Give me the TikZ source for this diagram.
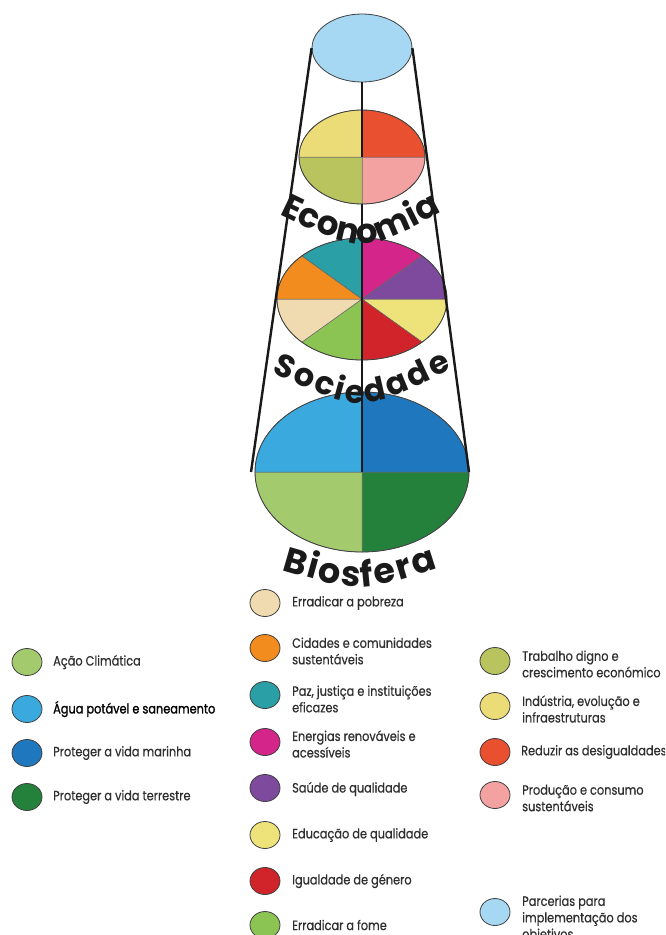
\documentclass[tikz,border=0pt]{standalone}
\usepackage{fontspec}
\setmainfont{Poppins}
\newfontfamily\legfont[FakeStretch=0.84,FakeBold=0.4]{Poppins}
\newfontfamily\legfontb[FakeStretch=0.84,FakeBold=1.3]{Poppins}
\newfontfamily\ttlfont{Poppins}
\usetikzlibrary{decorations.text,shapes.geometric}
\definecolor{cTop}{HTML}{A6D8F4}
\definecolor{cEy}{HTML}{ECDC78}
\definecolor{cEr}{HTML}{E9502F}
\definecolor{cEg}{HTML}{B9C45E}
\definecolor{cEp}{HTML}{F3A1A1}
\definecolor{cTeal}{HTML}{2A9FA5}
\definecolor{cMag}{HTML}{D4268A}
\definecolor{cPur}{HTML}{7E4A9E}
\definecolor{cOra}{HTML}{F28C1E}
\definecolor{cBei}{HTML}{F0DBB0}
\definecolor{cGre}{HTML}{8CC453}
\definecolor{cRed}{HTML}{D1242A}
\definecolor{cYel}{HTML}{EEE37A}
\definecolor{cBlt}{HTML}{3AAADE}
\definecolor{cBdk}{HTML}{1F78BE}
\definecolor{cGlt}{HTML}{A3CB6E}
\definecolor{cGdk}{HTML}{23813B}
\definecolor{cTxt}{HTML}{2E2E2E}
\definecolor{cTtl}{HTML}{1A1A1A}
\begin{document}
\begin{tikzpicture}[x=1pt,y=-1pt,
  slice/.style={draw=black!60,line width=0.5},
  rim/.style={draw=black!75,line width=0.8},
  axisline/.style={line width=2.6,draw=black!90},
  sideline/.style={line width=2.4,draw=black!90},
  legdot/.style={ellipse,draw=black!75,line width=0.8,minimum width=30,minimum height=27,inner sep=0},
  legtxt/.style={anchor=west,inner sep=0,align=left,text=cTxt,font=\legfont\fontsize{13.5}{16.5}\selectfont},
  ttl/.style={decorate,decoration={text along path,text align=fit to path,text color=cTtl}}]
\clip (0,0) rectangle (665,935);
\fill[white] (0,0) rectangle (665,935);
% centres
\coordinate (eco) at (362,157);
\coordinate (ecobot) at (362,204);
\coordinate (soc) at (362,299);
\coordinate (bio) at (362,472);
\coordinate (bl) at (251,472);
\coordinate (br) at (469,472);
% top ellipse
\node[ellipse,fill=cTop,rim,minimum width=100,minimum height=68,inner sep=0] (topell) at (362,48) {};
% Economia
\foreach \a/\b/\c in {0/90/cEp,90/180/cEg,180/270/cEy,270/360/cEr}
  \filldraw[fill=\c,slice] (eco) -- ++(\a:63 and 47) arc[start angle=\a,end angle=\b,x radius=63,y radius=47] -- cycle;
\draw[rim] (eco) ellipse[x radius=63,y radius=47];
% Sociedade
\foreach \a/\b/\c in {0/45/cYel,45/90/cRed,90/135/cGre,135/180/cBei,180/225/cOra,225/270/cTeal,270/315/cMag,315/360/cPur}
  \filldraw[fill=\c,slice] (soc) -- ++(\a:85 and 61) arc[start angle=\a,end angle=\b,x radius=85,y radius=61] -- cycle;
\draw[rim] (soc) ellipse[x radius=85,y radius=61];
% Biosfera
\foreach \a/\b/\c in {0/90/cGdk,90/180/cGlt,180/270/cBlt,270/360/cBdk}
  \filldraw[fill=\c,slice] (bio) -- ++(\a:107 and 80) arc[start angle=\a,end angle=\b,x radius=107,y radius=80] -- cycle;
\draw[rim] (bio) ellipse[x radius=107,y radius=80];
% lines
\draw[axisline] (topell.south) -- (eco);
\draw[axisline] (ecobot) -- (bio);
\draw[sideline] (topell.west) -- (bl);
\draw[sideline] (topell.east) -- (br);
% titles
\path[ttl,decoration={text={|\ttlfont\bfseries\fontsize{34}{34}\selectfont|Economia}}] (279,214) .. controls (362,254) .. (442,212);
\path[ttl,decoration={text={|\ttlfont\bfseries\fontsize{32}{32}\selectfont|Sociedade}}] (271,372) .. controls (361,414) .. (452,369);
\path[ttl,decoration={text={|\ttlfont\bfseries\fontsize{35}{35}\selectfont|Biosfera}}] (281,570) .. controls (360,593) .. (438,568);
% legend left
\node[legdot,fill=cGlt] (d1) at (27,662) {};
\node[legtxt] (t1) at (53,662) {Ação Climática};
\node[legdot,fill=cBlt] (d2) at (27,709) {};
\node[legtxt,text=black,font=\legfontb\fontsize{13.5}{16.5}\selectfont] (t2) at (53,709) {Água potável e saneamento};
\node[legdot,fill=cBdk] (d3) at (27,753) {};
\node[legtxt] (t3) at (53,753) {Proteger a vida marinha};
\node[legdot,fill=cGdk] (d4) at (27,797) {};
\node[legtxt] (t4) at (53,797) {Proteger a vida terrestre};
% legend middle
\node[legdot,fill=cBei] (d5) at (265,603) {};
\node[legtxt] (t5) at (292,603) {Erradicar a pobreza};
\node[legdot,fill=cOra] (d6) at (265,648) {};
\node[legtxt] (t6) at (292,651) {Cidades e comunidades\\sustentáveis};
\node[legdot,fill=cTeal] (d7) at (265,695) {};
\node[legtxt] (t7) at (292,699) {Paz, justiça e instituições\\eficazes};
\node[legdot,fill=cMag] (d8) at (265,742) {};
\node[legtxt] (t8) at (292,744) {Energias renováveis e\\acessíveis};
\node[legdot,fill=cPur] (d9) at (265,788) {};
\node[legtxt] (t9) at (292,789) {Saúde de qualidade};
\node[legdot,fill=cYel] (d10) at (265,835) {};
\node[legtxt] (t10) at (292,835) {Educação de qualidade};
\node[legdot,fill=cRed] (d11) at (265,881) {};
\node[legtxt] (t11) at (292,881) {Igualdade de género};
\node[legdot,fill=cGre] (d12) at (265,925) {};
\node[legtxt] (t12) at (292,925) {Erradicar a fome};
% legend right
\node[legdot,fill=cEg] (d13) at (495,661) {};
\node[legtxt] (t13) at (522,664) {Trabalho digno e\\crescimento económico};
\node[legdot,fill=cEy] (d14) at (495,706) {};
\node[legtxt] (t14) at (522,709) {Indústria, evolução e\\infraestruturas};
\node[legdot,fill=cEr] (d15) at (495,752) {};
\node[legtxt] (t15) at (521,752) {Reduzir as desigualdades};
\node[legdot,fill=cEp] (d16) at (495,795) {};
\node[legtxt] (t16) at (522,798) {Produção e consumo\\sustentáveis};
\node[legdot,fill=cTop] (d17) at (495,912) {};
\node[legtxt] (t17) at (522,919) {Parcerias para\\implementação dos\\objetivos};
\end{tikzpicture}
\end{document}
